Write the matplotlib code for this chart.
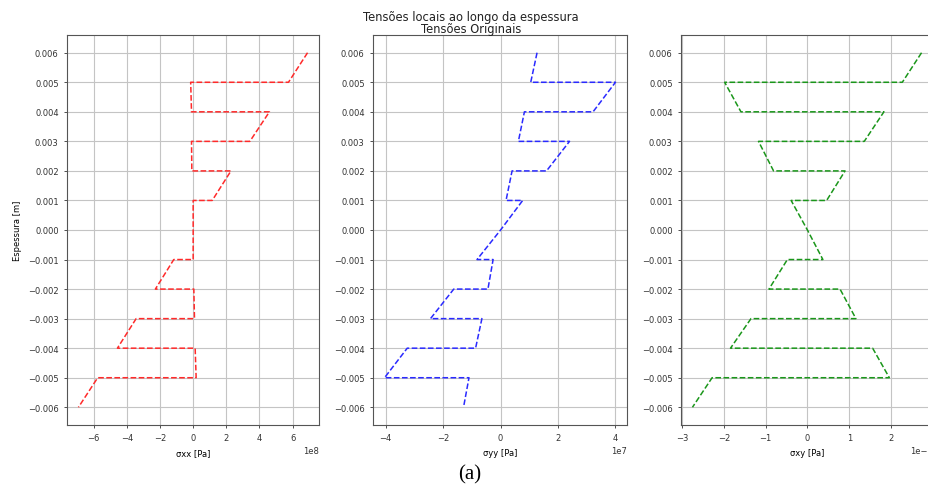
import numpy as np
import matplotlib
matplotlib.use('Agg')
import matplotlib.pyplot as plt

# espessura (z) nos limites de cada camada, de cima para baixo
z = [0.006, 0.005, 0.005, 0.004, 0.004, 0.003, 0.003, 0.002, 0.002, 0.001, 0.001, 0.000,
     0.000, -0.001, -0.001, -0.002, -0.002, -0.003, -0.003, -0.004, -0.004, -0.005, -0.005, -0.006]

# tensoes
sxx = [6.9, 5.75, -0.15, -0.1, 4.6, 3.42, -0.1, -0.08, 2.28, 1.15, 0.0, 0.0,
       0.0, 0.0, -1.17, -2.28, 0.04, 0.08, -3.44, -4.57, 0.12, 0.18, -5.76, -6.92]  # x1e8
syy = [1.27, 1.05, 4.0, 3.22, 0.83, 0.62, 2.40, 1.60, 0.40, 0.19, 0.77, 0.0,
       0.0, -0.82, -0.26, -0.44, -1.63, -2.44, -0.65, -0.87, -3.25, -4.04, -1.10, -1.29]  # x1e7
sxy = [2.73, 2.27, -1.98, -1.59, 1.83, 1.36, -1.17, -0.81, 0.90, 0.46, -0.39, 0.0,
       0.0, 0.37, -0.48, -0.92, 0.78, 1.16, -1.35, -1.84, 1.56, 1.96, -2.28, -2.75]  # x1e-8

fs = 6
plt.rcParams['font.size'] = fs

fig = plt.figure(figsize=(9.29, 4.89), dpi=100)
bot = 63/489
h = 390/489
ax1 = fig.add_axes([67/929, bot, 252/929, h])
ax2 = fig.add_axes([373/929, bot, 254/929, h])
ax3 = fig.add_axes([681/929, bot, 252/929, h])

ax1.plot(np.array(sxx)*1e8, z, '--', color='#ff2a2a', lw=1.1)
ax2.plot(np.array(syy)*1e7, z, '--', color='#2a2aff', lw=1.1)
ax3.plot(np.array(sxy)*1e-8, z, '--', color='#1a961a', lw=1.1)

ax1.set_xticks(np.arange(-6, 7, 2)*1e8)
ax2.set_xticks(np.arange(-4, 5, 2)*1e7)
ax3.set_xticks(np.arange(-3, 3, 1)*1e-8)

for ax, lab in zip([ax1, ax2, ax3], ['σxx [Pa]', 'σyy [Pa]', 'σxy [Pa]']):
    ax.set_yticks(np.arange(-6, 7)*0.001)
    ax.set_xlabel(lab, fontsize=fs)
    ax.grid(True, color='#c4c4c4', lw=0.8)
    ax.tick_params(labelsize=fs, width=0.6, length=2.5, colors='#333333')
    ax.xaxis.get_offset_text().set_fontsize(fs)
    for s in ax.spines.values():
        s.set_color('#555555')
ax1.set_ylabel('Espessura [m]', fontsize=fs)

fig.text(471/929, 1-17/489, 'Tensões locais ao longo da espessura',
         ha='center', va='center', fontsize=8.3, color='#222222')
fig.text(471/929, 1-30/489, 'Tensões Originais',
         ha='center', va='center', fontsize=8.3, color='#222222')
fig.text(470/929, 1-475/489, '(a)', ha='center', va='center',
         fontsize=15, family='Liberation Serif')

plt.savefig('out.png', dpi=100)
